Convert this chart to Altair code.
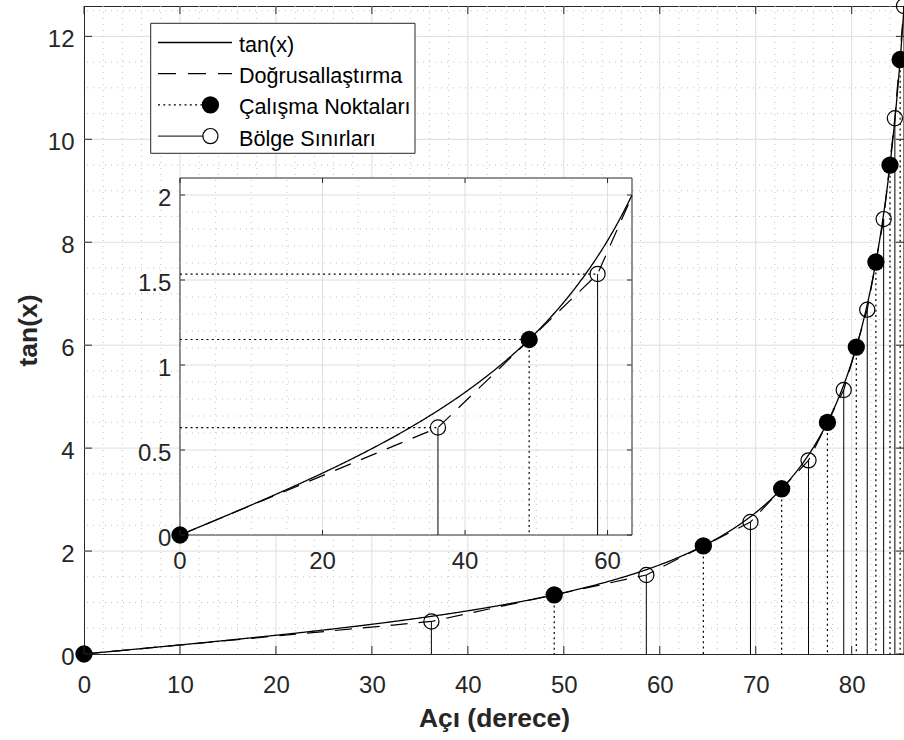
import numpy as np
import pandas as pd
import altair as alt

FONT = "Liberation Sans"
AX = "#262626"

# Operating points (angle in degrees, tan value)
op_deg = [0.0, 49.0, 64.54, 72.70, 77.47, 80.48, 82.52, 83.99, 85.05]
op_val = [0.0, 1.150, 2.100, 3.210, 4.500, 5.963, 7.616, 9.500, 11.550]
# Region boundaries (angle in degrees, value of the piecewise-linear model)
bd_deg = [36.2, 58.6, 69.45, 75.5, 79.17, 81.62, 83.33, 84.5, 85.45]
bd_val = [0.632, 1.535, 2.565, 3.762, 5.13, 6.69, 8.45, 10.41, 12.59]

# Axis limits and tick values
X_MAX, Y_MAX = 85.45, 12.59
IN_X_MAX, IN_Y_MAX = 63.43, 2.1
x_ticks = [0, 10, 20, 30, 40, 50, 60, 70, 80]
y_ticks = [0, 2, 4, 6, 8, 10, 12]
in_x_ticks = [0, 20, 40, 60]
in_y_ticks = [0, 0.5, 1, 1.5, 2]
in_y_labels = ["0", "0.5", "1", "1.5", "2"]

legend_labels = ["tan(x)", "Doğrusallaştırma", "Çalışma Noktaları", "Bölge Sınırları"]

W, H = 820, 648

# ---------------- main axes ----------------
mxs = alt.Scale(domain=[0, X_MAX], nice=False, zero=False)
mys = alt.Scale(domain=[0, Y_MAX], nice=False, zero=False)
x_axis = alt.Axis(values=x_ticks, format="d", grid=False, ticks=False, tickSize=0,
                  domain=False, labelFont=FONT, labelFontSize=24, labelColor=AX,
                  labelPadding=19, labelFlush=False, labelOverlap=False,
                  title="Açı (derece)", titleFont=FONT, titleFontSize=26.4,
                  titleFontWeight="bold", titleColor=AX, titleBaseline="alphabetic",
                  titleAlign="center", titleX=W / 2, titleY=72.5)
y_axis = alt.Axis(values=y_ticks, format="d", grid=False, ticks=False, tickSize=0,
                  domain=False, labelFont=FONT, labelFontSize=24, labelColor=AX,
                  labelPadding=10, labelOffset=3.5, labelFlush=False, labelOverlap=False,
                  title="tan(x)", titleFont=FONT, titleFontSize=26.4,
                  titleFontWeight="bold", titleColor=AX, titleAngle=270,
                  titleBaseline="alphabetic", titleAlign="center",
                  titleX=-48, titleY=H / 2)


def mx(f):
    return alt.X(f"{f}:Q", scale=mxs, axis=x_axis)


def my(f):
    return alt.Y(f"{f}:Q", scale=mys, axis=y_axis)


xs = np.linspace(0, X_MAX, 800)
curve = pd.DataFrame({"x": xs, "y": np.tan(np.radians(xs))})
lin_x = [0.0] + bd_deg
lin_y = [0.0] + bd_val
lin = pd.DataFrame({"x": lin_x, "y": lin_y})
ops = pd.DataFrame({"x": op_deg, "y": op_val, "z": 0.0})
bds = pd.DataFrame({"x": bd_deg, "y": bd_val, "z": 0.0})

minor_x = pd.DataFrame({"v": [v for v in range(2, 86, 2) if v % 10]})
minor_y = pd.DataFrame({"v": [k * 0.5 for k in range(1, 26) if k % 4]})
major_x = pd.DataFrame({"v": x_ticks[1:]})
major_y = pd.DataFrame({"v": y_ticks[1:]})

minor_style = dict(color="#c4c4c4", strokeWidth=1, strokeDash=[1, 5])
major_style = dict(color="#dedede", strokeWidth=1)

main = alt.layer(
    alt.Chart(major_x).mark_rule(**major_style).encode(x=mx("v")),
    alt.Chart(major_y).mark_rule(**major_style).encode(y=my("v")),
    alt.Chart(minor_x).mark_rule(**minor_style).encode(x=mx("v")),
    alt.Chart(minor_y).mark_rule(**minor_style).encode(y=my("v")),
    alt.Chart(ops).mark_rule(color="black", strokeWidth=1.2, strokeDash=[2, 3.3]).encode(
        x=mx("x"), y=my("y"), y2="z"),
    alt.Chart(bds).mark_rule(color="black", strokeWidth=1).encode(
        x=mx("x"), y=my("y"), y2="z"),
    alt.Chart(curve).mark_line(color="black", strokeWidth=1.3, clip=True).encode(
        x=mx("x"), y=my("y")),
    alt.Chart(lin).mark_line(color="black", strokeWidth=1.2, strokeDash=[17, 11], clip=True).encode(
        x=mx("x"), y=my("y")),
    alt.Chart(ops).mark_point(shape="circle", filled=True, size=300, color="black", opacity=1).encode(
        x=mx("x"), y=my("y")),
    alt.Chart(bds).mark_point(shape="circle", filled=False, size=230, color="black",
                              strokeWidth=1.2, opacity=1).encode(x=mx("x"), y=my("y")),
    # inward tick marks on all four sides
    alt.Chart(pd.DataFrame({"x": x_ticks, "y": 0.0})).mark_rule(
        color=AX, strokeWidth=1, y2Offset=-8).encode(x=mx("x"), y=my("y"), y2="y"),
    alt.Chart(pd.DataFrame({"x": x_ticks, "y": Y_MAX})).mark_rule(
        color=AX, strokeWidth=1, y2Offset=8).encode(x=mx("x"), y=my("y"), y2="y"),
    alt.Chart(pd.DataFrame({"y": y_ticks, "x": 0.0})).mark_rule(
        color=AX, strokeWidth=1, x2Offset=8).encode(x=mx("x"), x2="x", y=my("y")),
    alt.Chart(pd.DataFrame({"y": y_ticks, "x": X_MAX})).mark_rule(
        color=AX, strokeWidth=1, x2Offset=-8).encode(x=mx("x"), x2="x", y=my("y")),
)

# ---------------- inset axes ----------------
ixs = alt.Scale(domain=[0, IN_X_MAX], range=[96, 548], nice=False, zero=False)
iys = alt.Scale(domain=[0, IN_Y_MAX], range=[529, 172], nice=False, zero=False)


def ix(f):
    return alt.X(f"{f}:Q", scale=ixs, axis=None)


def iy(f):
    return alt.Y(f"{f}:Q", scale=iys, axis=None)


ixv = np.linspace(0, IN_X_MAX, 500)
in_curve = pd.DataFrame({"x": ixv, "y": np.tan(np.radians(ixv))})
keep = [i for i, v in enumerate(lin_x) if v <= IN_X_MAX]
in_lin = pd.DataFrame({
    "x": [lin_x[i] for i in keep] + [IN_X_MAX],
    "y": [lin_y[i] for i in keep] + [float(np.interp(IN_X_MAX, lin_x, lin_y))],
})
in_ops = ops[ops["x"] <= IN_X_MAX]
in_bds = bds[bds["x"] <= IN_X_MAX]
in_pts = pd.concat([in_ops, in_bds])
in_pts = in_pts[in_pts["y"] > 0]

in_frame = pd.DataFrame({"x": [0.0], "x2": [IN_X_MAX], "y": [0.0], "y2": [IN_Y_MAX]})
in_major_x = pd.DataFrame({"v": in_x_ticks[1:], "a": 0.0, "b": IN_Y_MAX})
in_major_y = pd.DataFrame({"v": in_y_ticks[1:], "a": 0.0, "b": IN_X_MAX})
in_minor_x = pd.DataFrame({"v": [v for v in range(5, 64, 5) if v % 20], "a": 0.0, "b": IN_Y_MAX})
in_minor_y = pd.DataFrame({"v": [k / 10 for k in range(1, 21) if k % 5], "a": 0.0, "b": IN_X_MAX})

inset = alt.layer(
    alt.Chart(in_frame).mark_rect(fill="white", stroke=AX, strokeWidth=1).encode(
        x=ix("x"), x2="x2", y=iy("y"), y2="y2"),
    alt.Chart(in_major_x).mark_rule(**major_style).encode(x=ix("v"), y=iy("a"), y2="b"),
    alt.Chart(in_major_y).mark_rule(**major_style).encode(y=iy("v"), x=ix("a"), x2="b"),
    alt.Chart(in_minor_x).mark_rule(**minor_style).encode(x=ix("v"), y=iy("a"), y2="b"),
    alt.Chart(in_minor_y).mark_rule(**minor_style).encode(y=iy("v"), x=ix("a"), x2="b"),
    alt.Chart(in_pts).mark_rule(color="black", strokeWidth=1.2, strokeDash=[2, 3.3]).encode(
        x=ix("z"), x2="x", y=iy("y")),
    alt.Chart(in_ops).mark_rule(color="black", strokeWidth=1.2, strokeDash=[2, 3.3]).encode(
        x=ix("x"), y=iy("y"), y2="z"),
    alt.Chart(in_bds).mark_rule(color="black", strokeWidth=1).encode(
        x=ix("x"), y=iy("y"), y2="z"),
    alt.Chart(in_curve).mark_line(color="black", strokeWidth=1.3).encode(x=ix("x"), y=iy("y")),
    alt.Chart(in_lin).mark_line(color="black", strokeWidth=1.2, strokeDash=[17, 11]).encode(
        x=ix("x"), y=iy("y")),
    alt.Chart(in_ops).mark_point(shape="circle", filled=True, size=300, color="black", opacity=1).encode(
        x=ix("x"), y=iy("y")),
    alt.Chart(in_bds).mark_point(shape="circle", filled=False, size=230, color="black",
                                 strokeWidth=1.2, opacity=1).encode(x=ix("x"), y=iy("y")),
    alt.Chart(pd.DataFrame({"x": in_x_ticks, "y": 0.0})).mark_rule(
        color=AX, strokeWidth=1, y2Offset=-5).encode(x=ix("x"), y=iy("y"), y2="y"),
    alt.Chart(pd.DataFrame({"x": in_x_ticks, "y": IN_Y_MAX})).mark_rule(
        color=AX, strokeWidth=1, y2Offset=5).encode(x=ix("x"), y=iy("y"), y2="y"),
    alt.Chart(pd.DataFrame({"y": in_y_ticks, "x": 0.0})).mark_rule(
        color=AX, strokeWidth=1, x2Offset=5).encode(x=ix("x"), x2="x", y=iy("y")),
    alt.Chart(pd.DataFrame({"y": in_y_ticks, "x": IN_X_MAX})).mark_rule(
        color=AX, strokeWidth=1, x2Offset=-5).encode(x=ix("x"), x2="x", y=iy("y")),
    alt.Chart(pd.DataFrame({"x": in_x_ticks, "y": 0.0, "t": [str(v) for v in in_x_ticks]})).mark_text(
        font=FONT, fontSize=24, color=AX, baseline="top", align="center", dy=15).encode(
        x=ix("x"), y=iy("y"), text="t:N"),
    alt.Chart(pd.DataFrame({"y": in_y_ticks, "x": 0.0, "t": in_y_labels})).mark_text(
        font=FONT, fontSize=24, color=AX, baseline="middle", align="right", dx=-8.6, dy=3.5).encode(
        x=ix("x"), y=iy("y"), text="t:N"),
)

# ---------------- legend box ----------------
one = alt.Data(values=[{"k": 1}])
rows = [36.5, 67.7, 98.9, 130.1]
lx0, lx1, mark_x, text_x = 74, 148, 126.4, 155
leg = [
    alt.Chart(one).mark_rect(fill="white", stroke=AX, strokeWidth=1).encode(
        x=alt.value(66.7), x2=alt.value(331), y=alt.value(17.3), y2=alt.value(147.3)),
    alt.Chart(one).mark_rule(color="black", strokeWidth=1.3).encode(
        x=alt.value(lx0), x2=alt.value(lx1), y=alt.value(rows[0])),
    alt.Chart(one).mark_rule(color="black", strokeWidth=1.2, strokeDash=[18, 12]).encode(
        x=alt.value(lx0), x2=alt.value(lx1), y=alt.value(rows[1])),
    alt.Chart(one).mark_rule(color="black", strokeWidth=1.2, strokeDash=[2, 3.3]).encode(
        x=alt.value(lx0), x2=alt.value(mark_x - 8), y=alt.value(rows[2])),
    alt.Chart(one).mark_point(shape="circle", filled=True, size=300, color="black", opacity=1).encode(
        x=alt.value(mark_x), y=alt.value(rows[2])),
    alt.Chart(one).mark_rule(color="black", strokeWidth=1).encode(
        x=alt.value(lx0), x2=alt.value(mark_x - 7), y=alt.value(rows[3])),
    alt.Chart(one).mark_point(shape="circle", filled=False, size=230, color="black",
                              strokeWidth=1.2, opacity=1).encode(
        x=alt.value(mark_x), y=alt.value(rows[3])),
]
for r, lab in zip(rows, legend_labels):
    leg.append(alt.Chart(one).mark_text(font=FONT, fontSize=21.6, color="black", align="left",
                                         baseline="middle", dy=3.5, text=lab).encode(
        x=alt.value(text_x), y=alt.value(r)))
legend = alt.layer(*leg)

chart = alt.layer(main, inset, legend).resolve_scale(
    x="independent", y="independent"
).properties(
    width=W, height=H,
    padding={"left": 84, "top": 6, "right": 0, "bottom": 86},
    autosize=alt.AutoSizeParams(type="none"),
    background="white",
).configure_view(stroke=AX, strokeWidth=1)

chart.save("out.html", embed_options={"renderer": "svg", "actions": False})
